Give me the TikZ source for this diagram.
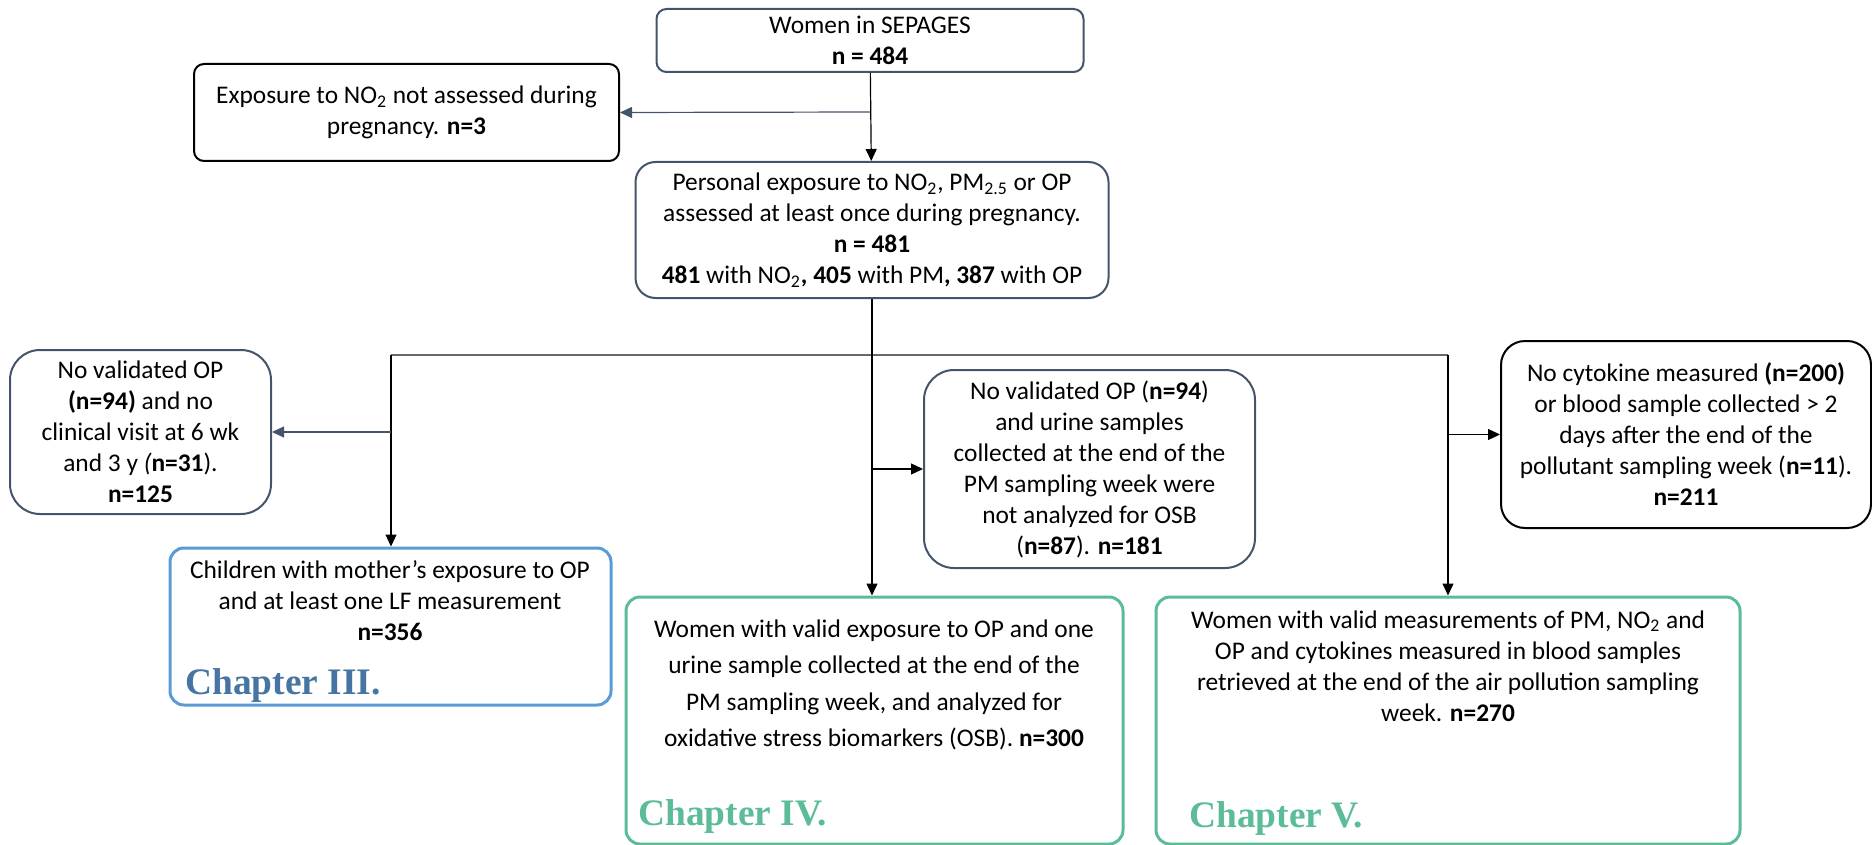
\documentclass[tikz,border=0pt]{standalone}
\usepackage{fontspec}
\setmainfont{Carlito}
\newfontfamily\chapfont{Liberation Serif}
\usetikzlibrary{arrows.meta}

\definecolor{slate}{RGB}{68,84,106}
\definecolor{chblue}{RGB}{91,155,213}
\definecolor{chbluetext}{RGB}{70,117,163}
\definecolor{chgreen}{RGB}{92,188,151}
\definecolor{linegray}{RGB}{105,105,105}

\tikzset{
  box/.style={draw=slate, line width=1pt, rounded corners=5pt, align=center, inner sep=0pt,
    font=\fontsize{12.7pt}{15.5pt}\selectfont},
  chapbox/.style={draw, line width=1.5pt, rounded corners=7pt, inner sep=0pt},
  chaptext/.style={align=center, inner sep=0pt, font=\fontsize{12.7pt}{15.5pt}\selectfont},
  chaplabel/.style={anchor=base west, inner sep=0pt, font=\chapfont\bfseries\fontsize{18.7pt}{22pt}\selectfont},
  flow/.style={line width=0.6pt, -{Triangle[length=6pt,width=5.5pt]}},
}

\begin{document}
\begin{tikzpicture}[x=0.5pt,y=-0.5pt]
  \useasboundingbox (0,0) rectangle (1872,845);

  % Define the boxes of the flow chart
  \node[box, minimum width=213.5pt, minimum height=31.5pt] (women) at (870,40.5)
    {Women in SEPAGES\\\textbf{n = 484}};
  \node[box, draw=black, minimum width=212.5pt, minimum height=48.5pt] (noNO2) at (406.5,112.5)
    {Exposure to NO\textsubscript{2} not assessed during\\pregnancy. \textbf{n=3}};
  \node[box, rounded corners=10pt, minimum width=236.5pt, minimum height=68pt] (personal) at (872,230)
    {Personal exposure to NO\textsubscript{2}, PM\textsubscript{2.5} or OP\\assessed at least once during pregnancy.\\\textbf{n = 481}\\\textbf{481} with NO\textsubscript{2}\textbf{, 405} with PM\textbf{, 387} with OP};
  \node[box, rounded corners=15pt, minimum width=130.5pt, minimum height=82pt] (exclLF) at (140.5,432)
    {No validated OP\\\textbf{(n=94)} and no\\clinical visit at 6 wk\\and 3 y \textit{(}\textbf{n=31}).\\\textbf{n=125}};
  \node[box, rounded corners=15pt, minimum width=165.5pt, minimum height=99pt] (exclOSB) at (1089.5,469)
    {No validated OP (\textbf{n=94})\\and urine samples\\collected at the end of the\\PM sampling week were\\not analyzed for OSB\\(\textbf{n=87}). \textbf{n=181}};
  \node[box, draw=black, rounded corners=12pt, minimum width=185pt, minimum height=93.5pt] (exclCyto) at (1686,434.5)
    {No cytokine measured \textbf{(n=200)}\\or blood sample collected > 2\\days after the end of the\\pollutant sampling week (\textbf{n=11}).\\\textbf{n=211}};

  % Chapter boxes
  \node[chapbox, draw=chblue, minimum width=220.5pt, minimum height=78.5pt] (chapIII) at (390.5,626.5) {};
  \node[chapbox, draw=chgreen, minimum width=248.5pt, minimum height=123.5pt] (chapIV) at (874.5,720.5) {};
  \node[chapbox, draw=chgreen, minimum width=292pt, minimum height=123.5pt] (chapV) at (1448,720.5) {};

  \node[chaptext] (chapIIItxt) at (390,600.5)
    {Children with mother’s exposure to OP\\and at least one LF measurement\\\textbf{n=356}};
  \node[chaptext, font=\fontsize{12.7pt}{18.3pt}\selectfont] (chapIVtxt) at (874,685)
    {Women with valid exposure to OP and one\\urine sample collected at the end of the\\PM sampling week, and analyzed for\\oxidative stress biomarkers (OSB). \textbf{n=300}};
  \node[chaptext] (chapVtxt) at (1448,666)
    {Women with valid measurements of PM, NO\textsubscript{2} and\\OP and cytokines measured in blood samples\\retrieved at the end of the air pollution sampling\\week. \textbf{n=270}};

  % Label the chapters
  \node[chaplabel, text=chbluetext] (labIII) at (185,694) {Chapter III.};
  \node[chaplabel, text=chgreen] (labIV) at (638,825) {Chapter IV.};
  \node[chaplabel, text=chgreen] (labV) at (1189,827) {Chapter V.};

  % Define the split points
  \coordinate (splitTop) at (870,112);
  \coordinate (splitL) at (391,355);
  \coordinate (splitR) at (1448,355);

  % Draw the connectors
  \draw[flow] (women) -- (personal);
  \draw[flow, draw=slate] (splitTop) -- (noNO2.east);
  \draw[line width=0.6pt, draw=linegray] (splitL) -- (splitR);
  \draw[flow] (personal.south) -- (personal.south |- chapIV.north);
  \draw[flow] (personal.south |- exclOSB.west) -- (exclOSB.west);
  \draw[flow] (splitL) -- (splitL |- chapIII.north);
  \draw[flow, draw=slate] (splitL |- exclLF.east) -- (exclLF.east);
  \draw[flow] (splitR) -- (splitR |- chapV.north);
  \draw[flow] (splitR |- exclCyto.west) -- (exclCyto.west);
\end{tikzpicture}
\end{document}
